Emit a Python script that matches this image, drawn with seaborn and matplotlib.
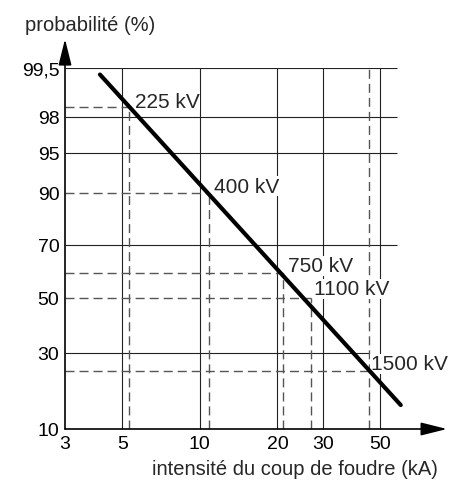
import numpy as np
import matplotlib
matplotlib.use('Agg')
import matplotlib.pyplot as plt
import seaborn as sns

# axis ticks
current_ticks = [3, 5, 10, 20, 30, 50]
current_labels = ['3', '5', '10', '20', '30', '50']
prob_ticks = [10, 30, 50, 70, 90, 95, 98, 99.5]
prob_labels = ['10', '30', '50', '70', '90', '95', '98', '99,5']

# main probability line (kA, %)
line_current = [4.1, 60.2]
line_prob = [99.3, 16.3]

# voltage levels read on the line
voltages = ['225 kV', '400 kV', '750 kV', '1100 kV', '1500 kV']
volt_current = [5.3, 10.9, 21.0, 27.0, 45.3]
volt_prob = [98.3, 90, 59.5, 50, 25.3]

# solid grid
grid_h = [99.5, 98, 95, 70]
grid_v = [5, 10, 20, 30, 50]

# spacing of the probability paper (distance of each tick from the bottom, px)
paper_pos = [0, 76, 131, 184, 236, 276, 312, 361]

sns.set_theme(style='white')
plt.rcParams['font.family'] = ['Liberation Sans', 'DejaVu Sans']

fig = plt.figure(figsize=(4.62, 4.81), dpi=100)
ax = fig.add_axes([65/462, 51/481, 382/462, 361/481])

def fwd(p):
    return np.interp(p, prob_ticks, paper_pos)

def inv(q):
    return np.interp(q, paper_pos, prob_ticks)

ax.set_xscale('log')
ax.set_yscale('function', functions=(fwd, inv))

sns.lineplot(x=line_current, y=line_prob, color='black', lw=3, ax=ax, zorder=10)

# solid grid lines
grid_kw = dict(color='#222222', lw=0.8, zorder=1)
ax.hlines(grid_h, 3, 58, **grid_kw)
ax.hlines(30, 3, volt_current[-1], **grid_kw)
ax.vlines(grid_v, 10, 99.5, **grid_kw)

# dashed reading lines
dash_kw = dict(color='#555555', lw=1.0, linestyles=(0, (6.5, 3.6)), zorder=2)
offsets = [(4.3, 4.3), (3, 5), (3.6, 5), (2.2, 6.5), (1.5, 5)]
for name, x, p, off in zip(voltages, volt_current, volt_prob, offsets):
    top = 99.5 if name == '1500 kV' else p
    ax.hlines(p, 3, x, **dash_kw)
    ax.vlines(x, 10, top, **dash_kw)
    ax.annotate(name, (x, p), xytext=off, textcoords='offset points',
                ha='left', va='center', fontsize=15, zorder=5,
                bbox=dict(facecolor='white', edgecolor='none', pad=0.5))

ax.set_xlim(3, 91)
ax.set_ylim(10, 99.5)
ax.minorticks_off()
ax.set_xticks(current_ticks, current_labels)
ax.set_yticks(prob_ticks, prob_labels)
ax.tick_params(length=0, labelsize=14, colors='black', pad=4)

for s in ax.spines.values():
    s.set_visible(False)

# axes with arrows
arrow = dict(arrowstyle='-|>,head_length=1.0,head_width=0.25', color='black',
             lw=1.2, mutation_scale=16, shrinkA=0, shrinkB=0)
ax.annotate('', xy=(1, 0), xytext=(0, 0), xycoords='axes fraction',
            arrowprops=arrow, annotation_clip=False)
ax.annotate('', xy=(0, 1.08), xytext=(0, 0), xycoords='axes fraction',
            arrowprops=arrow, annotation_clip=False)

ax.text(-0.105, 1.105, 'probabilité (%)', transform=ax.transAxes,
        ha='left', va='baseline', fontsize=14.5)
ax.text(0.603, -0.125, 'intensité du coup de foudre (kA)', transform=ax.transAxes,
        ha='center', va='baseline', fontsize=14.5)

fig.savefig('out.png', dpi=100)
